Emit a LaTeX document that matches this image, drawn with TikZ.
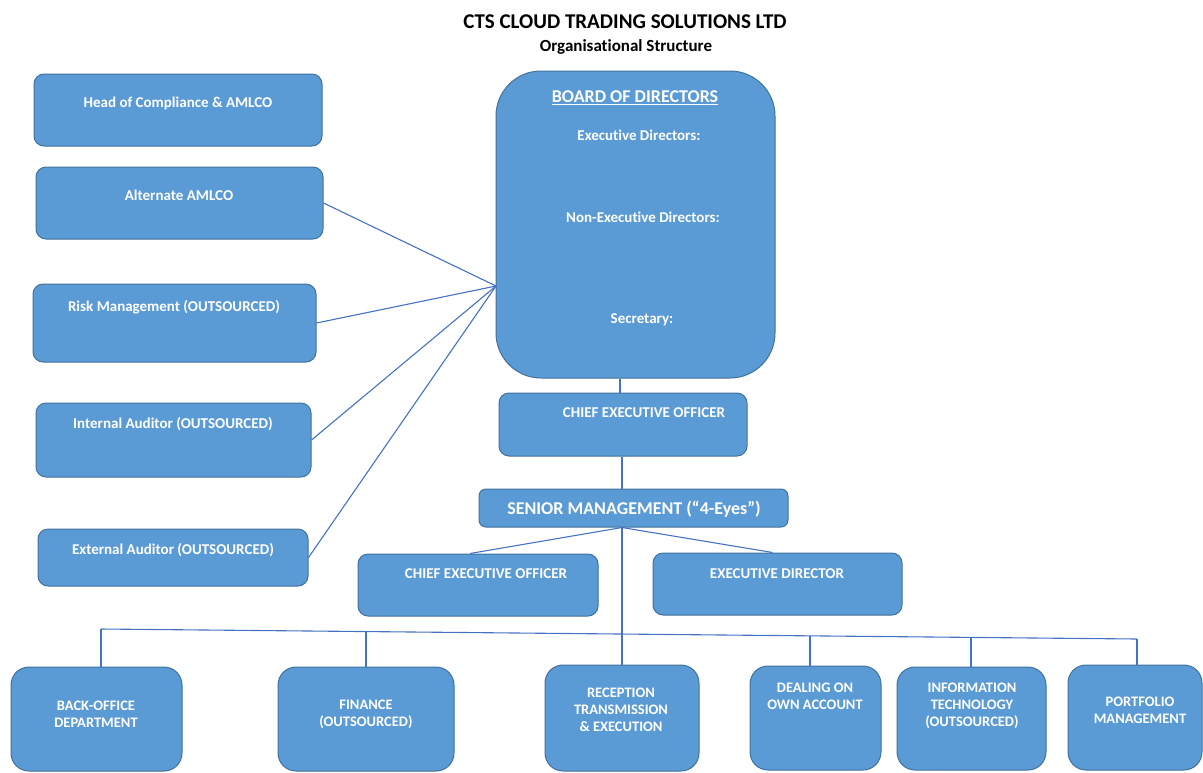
\documentclass[tikz,border=0pt]{standalone}
\usepackage{fontspec}
\setmainfont{Carlito}[Ligatures=NoCommon]
\usetikzlibrary{calc}
\definecolor{boxfill}{HTML}{5B9BD5}
\definecolor{boxline}{HTML}{41719C}
\definecolor{conn}{HTML}{4472C4}
\tikzset{
  bx/.style={draw=boxline, fill=boxfill, line width=1pt, inner sep=0pt},
  lbox/.style={bx, rounded corners=10pt},
  bbox/.style={bx, rounded corners=18pt},
  wt/.style={text=white, inner sep=0pt, anchor=mid, yshift=-3pt, font=\bfseries\fontsize{15}{17}\selectfont},
  wtb/.style={text=white, inner sep=0pt, align=center, font=\bfseries\fontsize{14.5}{17}\selectfont},
  ln/.style={draw=conn, line width=1.1pt},
}
\begin{document}
\begin{tikzpicture}[x=1pt,y=-1pt]
\useasboundingbox (0,0) rectangle (1203,772);
% titles
\node[inner sep=0pt, anchor=mid, font=\bfseries\fontsize{21}{24}\selectfont] (t1) at (625,26) {CTS CLOUD TRADING SOLUTIONS LTD};
\node[inner sep=0pt, anchor=mid, font=\bfseries\fontsize{17}{20}\selectfont] (t2) at (626,49) {Organisational Structure};
% left boxes
\node[lbox, minimum width=288pt, minimum height=72pt] (hc) at (178,110) {};
\node[lbox, minimum width=287pt, minimum height=72pt] (aa) at (179.5,203) {};
\node[lbox, minimum width=283pt, minimum height=78pt] (rm) at (174.5,323) {};
\node[lbox, minimum width=275pt, minimum height=74pt] (ia) at (173.5,440) {};
\node[lbox, minimum width=270pt, minimum height=57pt] (ea) at (173,557.5) {};
\node[wt] (hct) at (178,102) {Head of Compliance \& AMLCO};
\node[wt] (aat) at (179,195) {Alternate AMLCO};
\node[wt] (rmt) at (174,306) {Risk Management (OUTSOURCED)};
\node[wt] (iat) at (173,423) {Internal Auditor (OUTSOURCED)};
\node[wt] (eat) at (173,549) {External Auditor (OUTSOURCED)};
% board
\node[bx, rounded corners=45pt, minimum width=279pt, minimum height=307pt] (board) at (635.5,224.5) {};
\node[wt, font=\bfseries\fontsize{18}{21}\selectfont] (bt) at (635,97) {\underline{BOARD OF DIRECTORS}};
\node[wt] (bed) at (639,135) {Executive Directors:};
\node[wt] (bne) at (643,217) {Non-Executive Directors:};
\node[wt] (bsec) at (642,318) {Secretary:};
\coordinate (bj) at (496,286);
% CEO and senior management
\node[lbox, minimum width=248pt, minimum height=63pt] (ceo) at (623,424.5) {};
\node[wt] (ceot) at (644,412) {CHIEF EXECUTIVE OFFICER};
\node[lbox, rounded corners=7pt, minimum width=309pt, minimum height=38pt] (sm) at (633.5,508) {};
\node[wt, font=\bfseries\fontsize{18}{21}\selectfont] (smt) at (634,509) {SENIOR MANAGEMENT (“4-Eyes”)};
\node[lbox, minimum width=240pt, minimum height=62pt] (ceo2) at (478,585) {};
\node[wt] (ceo2t) at (486,573) {CHIEF EXECUTIVE OFFICER};
\node[lbox, minimum width=249pt, minimum height=62pt] (ed) at (777.5,584) {};
\node[wt] (edt) at (777,573) {EXECUTIVE DIRECTOR};
% bottom boxes
\node[bbox, minimum width=171pt, minimum height=104pt] (bo) at (96.5,719) {};
\node[bbox, minimum width=176pt, minimum height=104pt] (fin) at (366,719) {};
\node[bbox, minimum width=154pt, minimum height=106pt] (rte) at (622,718) {};
\node[bbox, minimum width=131pt, minimum height=104pt] (dl) at (815.5,718) {};
\node[bbox, minimum width=149pt, minimum height=103pt] (it) at (971.5,718.5) {};
\node[bbox, minimum width=134pt, minimum height=105pt] (pm) at (1135,717.5) {};
\node[wtb] (bot) at (96,714) {BACK-OFFICE\\DEPARTMENT};
\node[wtb] (fint) at (366,714) {FINANCE\\(OUTSOURCED)};
\node[wtb] (rtet) at (621,710) {RECEPTION\\TRANSMISSION\\\& EXECUTION};
\node[wtb] (dlt) at (815,696) {DEALING ON\\OWN ACCOUNT};
\node[wtb] (itt) at (972,706) {INFORMATION\\TECHNOLOGY\\(OUTSOURCED)};
\node[wtb] (pmt) at (1140,710) {PORTFOLIO\\MANAGEMENT};
% connectors
\draw[ln] (aa.east) -- (bj);
\draw[ln] (rm.east) -- (bj);
\draw[ln] (ia.east) -- (bj);
\draw[ln] (ea.east) -- (bj);
\draw[ln] (board.south -| 620,0) -- (ceo.north -| 620,0);
\coordinate (trk) at (622,0);
\draw[ln] (ceo.south -| trk) -- (sm.north -| trk);
\draw[ln] (sm.south -| trk) -- (rte.north -| trk);
\draw[ln] (sm.south -| trk) -- ($(ceo2.north)+(-8,0)$);
\draw[ln] (sm.south -| trk) -- ($(ed.north)+(-5,0)$);
% bus
\coordinate (b1) at (101,629);
\coordinate (b2) at (366,631.6);
\coordinate (b4) at (810,635.8);
\coordinate (b5) at (971,637.4);
\coordinate (b6) at (1137,639);
\draw[ln] (b1) -- (b6);
\draw[ln] (b1) -- (bo.north -| b1);
\draw[ln] (b2) -- (fin.north -| b2);
\draw[ln] (b4) -- (dl.north -| b4);
\draw[ln] (b5) -- (it.north -| b5);
\draw[ln] (b6) -- (pm.north -| b6);
\end{tikzpicture}
\end{document}
